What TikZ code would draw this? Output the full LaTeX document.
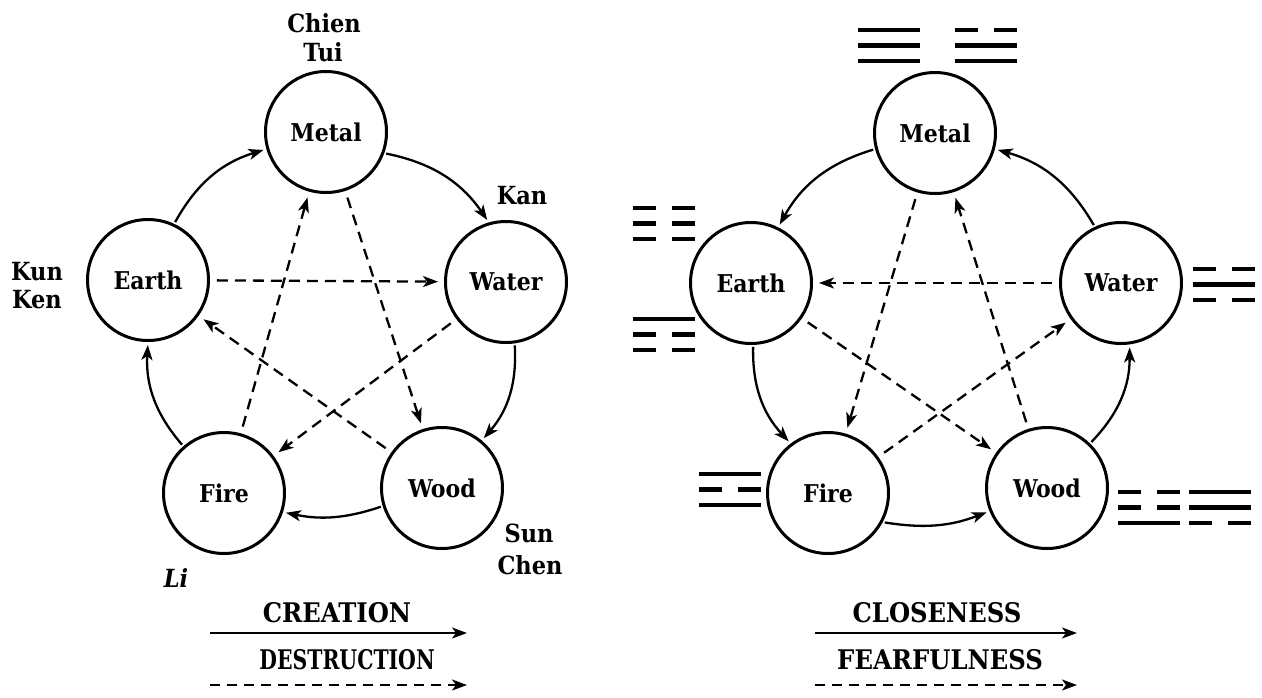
\documentclass[tikz,border=0pt]{standalone}
\usepackage{fontspec}
\setmainfont{DejaVu Serif Condensed}
\usetikzlibrary{arrows.meta}
\tikzset{
  elem/.style={circle, draw, line width=3pt, minimum size=121pt, inner sep=0pt, font=\fontsize{24.5}{28}\selectfont\bfseries},
  lbl/.style={font=\fontsize{25}{28}\selectfont\bfseries, inner sep=0pt},
  leg/.style={font=\fontsize{27}{30}\selectfont\bfseries, inner sep=0pt},
  crea/.style={line width=2.3pt, -{Stealth[length=15pt,width=11pt,inset=4pt]}, shorten >=3pt, shorten <=2pt},
  dest/.style={crea, dash pattern=on 11pt off 7pt},
  dline/.style={dest, shorten <=7pt, shorten >=6pt},
  legs/.style={line width=2.3pt, -{Stealth[length=15pt,width=11pt,inset=4pt]}},
  legd/.style={legs, dash pattern=on 10pt off 7pt},
  trg/.style={line width=4.5pt},
}
\newcommand\trl[2]{\if#2s\draw[trg] (0,#1) -- (62,#1);\else\draw[trg] (0,#1) -- (23,#1) (39,#1) -- (62,#1);\fi}
\newcommand\trig[4]{\begin{scope}[shift={#1}]\trl{0}{#2}\trl{15.5}{#3}\trl{31}{#4}\end{scope}}
\begin{document}
\begin{tikzpicture}[x=1pt, y=-1pt]
\useasboundingbox (0,0) rectangle (1262,697);
% ---------- left diagram ----------
\node[elem] (LMe) at (326,132) {Metal};
\node[elem] (LEa) at (148,280) {Earth};
\node[elem] (LWa) at (506,282) {Water};
\node[elem] (LFi) at (224,493) {Fire};
\node[elem] (LWo) at (442,488) {Wood};
\draw[crea] (LEa.65) to[bend left=22] (LMe.196);
\draw[crea] (LMe.-20) to[bend left=22] (LWa.106);
\draw[crea] (LWa.-82) to[bend left=22] (LWo.50);
\draw[crea] (LWo.197) to[bend left=15] (LFi.-18);
\draw[crea] (LFi.131) to[bend left=22] (LEa.-90);
\draw[dline] (LEa) -- (LWa);
\draw[dline] (LMe) -- (LWo);
\draw[dline] (LWo) -- (LEa);
\draw[dline] (LWa) -- (LFi);
\draw[dline] (LFi) -- (LMe);
\node[lbl] (chien) at (324,23) {Chien};
\node[lbl] (tui) at (323,52) {Tui};
\node[lbl] (kan) at (522,196) {Kan};
\node[lbl] (kun) at (37,272) {Kun};
\node[lbl] (ken) at (37,300) {Ken};
\node[lbl] (sun) at (529,533) {Sun};
\node[lbl] (chen) at (530,565) {Chen};
\node[lbl, font=\fontsize{25}{28}\selectfont\bfseries\itshape] (li) at (176,578) {Li};
% legend left
\node[leg] (creation) at (337,613) {CREATION};
\coordinate (cs) at (210,633); \coordinate (ce) at (467,633);
\draw[legs] (cs) -- (ce);
\node[leg, xscale=0.84, transform shape] (destr) at (347,660) {DESTRUCTION};
\coordinate (ds) at (210,685); \coordinate (de) at (467,685);
\draw[legd] (ds) -- (de);
% ---------- right diagram ----------
\node[elem] (RMe) at (935,133) {Metal};
\node[elem] (REa) at (751,283) {Earth};
\node[elem] (RWa) at (1121,283) {Water};
\node[elem] (RFi) at (828,493) {Fire};
\node[elem] (RWo) at (1047,488) {Wood};
\draw[crea] (RMe.195) to[bend right=22] (REa.64);
\draw[crea] (REa.-88) to[bend right=22] (RFi.127);
\draw[crea] (RFi.-28) to[bend right=15] (RWo.202);
\draw[crea] (RWo.46) to[bend right=22] (RWa.-82);
\draw[crea] (RWa.115) to[bend right=22] (RMe.-15);
\draw[dline] (RWa) -- (REa);
\draw[dline] (RMe) -- (RFi);
\draw[dline] (REa) -- (RWo);
\draw[dline] (RFi) -- (RWa);
\draw[dline] (RWo) -- (RMe);
% trigrams
\trig{(858,30)}{s}{s}{s}
\trig{(955,30)}{b}{s}{s}
\trig{(633,208)}{b}{b}{b}
\trig{(633,319)}{s}{b}{b}
\trig{(1193,269)}{b}{s}{b}
\trig{(699,474)}{s}{b}{s}
\trig{(1118,492)}{b}{b}{s}
\trig{(1189,492)}{s}{s}{b}
% legend right
\node[leg] (closeness) at (937,613) {CLOSENESS};
\coordinate (rcs) at (815,633); \coordinate (rce) at (1077,633);
\draw[legs] (rcs) -- (rce);
\node[leg] (fear) at (940,660) {FEARFULNESS};
\coordinate (rds) at (815,685); \coordinate (rde) at (1077,685);
\draw[legd] (rds) -- (rde);
\end{tikzpicture}
\end{document}
